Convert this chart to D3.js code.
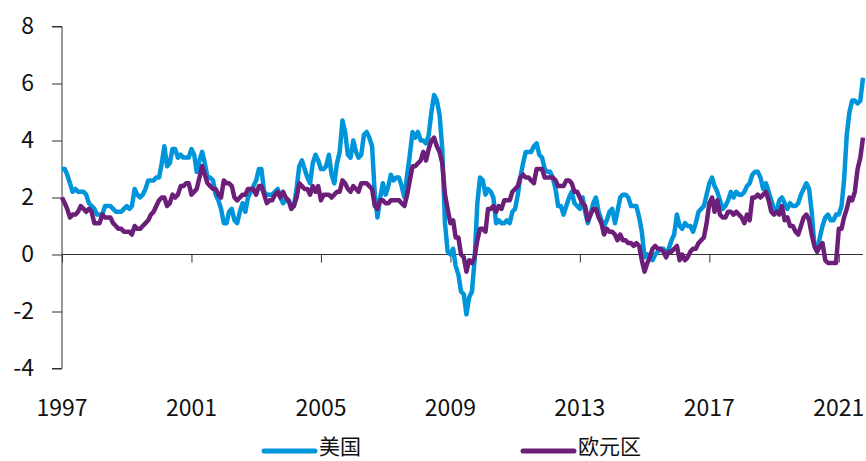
<!DOCTYPE html>
<html>
<head>
<meta charset="utf-8">
<script src="https://cdn.jsdelivr.net/npm/d3@7/dist/d3.min.js"></script>
<style>
  html, body { margin: 0; padding: 0; background: #ffffff; }
  svg { display: block; }
  text { font-family: "Noto Sans CJK SC", "Noto Sans", sans-serif; fill: #111; }
</style>
</head>
<body>
<svg id="chart" width="866" height="461"></svg>
<script>
// Monthly YoY inflation (%), Jan 1997 – Oct 2021
const startYear = 1997;
const seriesNames = ["美国", "欧元区"];
const seriesColors = ["#0095DA", "#6C1F78"];
const yTicks = [-4, -2, 0, 2, 4, 6, 8];
const xTickYears = [1997, 2001, 2005, 2009, 2013, 2017, 2021];

const usValues = [
  3.0, 3.0, 2.8, 2.5, 2.2, 2.3, 2.2, 2.2, 2.2, 2.1, 1.8, 1.7,
  1.6, 1.4, 1.4, 1.4, 1.7, 1.7, 1.7, 1.6, 1.5, 1.5, 1.5, 1.6,
  1.7, 1.6, 1.7, 2.3, 2.1, 2.0, 2.1, 2.3, 2.6, 2.6, 2.6, 2.7,
  2.7, 3.2, 3.8, 3.1, 3.2, 3.7, 3.7, 3.4, 3.5, 3.4, 3.4, 3.4,
  3.7, 3.5, 2.9, 3.3, 3.6, 3.2, 2.7, 2.7, 2.6, 2.1, 1.9, 1.6,
  1.1, 1.1, 1.5, 1.6, 1.2, 1.1, 1.5, 1.8, 1.5, 2.0, 2.2, 2.4,
  2.6, 3.0, 3.0, 2.2, 2.1, 2.1, 2.1, 2.2, 2.3, 2.0, 1.8, 1.9,
  1.9, 1.7, 1.7, 2.3, 3.1, 3.3, 3.0, 2.7, 2.5, 3.2, 3.5, 3.3,
  3.0, 3.0, 3.1, 3.5, 2.8, 2.5, 3.2, 3.6, 4.7, 4.3, 3.5, 3.4,
  4.0, 3.6, 3.4, 3.5, 4.2, 4.3, 4.1, 3.8, 2.1, 1.3, 2.0, 2.5,
  2.1, 2.4, 2.8, 2.6, 2.7, 2.7, 2.4, 2.0, 2.8, 3.5, 4.3, 4.1,
  4.3, 4.0, 4.0, 3.9, 4.2, 5.0, 5.6, 5.4, 4.9, 3.7, 1.1, 0.1,
  0.0, 0.2, -0.4, -0.7, -1.3, -1.4, -2.1, -1.5, -1.3, -0.2, 1.8, 2.7,
  2.6, 2.1, 2.3, 2.2, 2.0, 1.1, 1.2, 1.1, 1.1, 1.2, 1.1, 1.5,
  1.6, 2.1, 2.7, 3.2, 3.6, 3.6, 3.6, 3.8, 3.9, 3.5, 3.4, 3.0,
  2.9, 2.9, 2.7, 2.3, 1.7, 1.7, 1.4, 1.7, 2.0, 2.2, 1.8, 1.7,
  1.6, 2.0, 1.5, 1.1, 1.4, 1.8, 2.0, 1.5, 1.2, 1.0, 1.2, 1.5,
  1.6, 1.1, 1.5, 2.0, 2.1, 2.1, 2.0, 1.7, 1.7, 1.7, 1.3, 0.8,
  -0.1, 0.0, -0.1, -0.2, 0.0, 0.1, 0.2, 0.2, 0.0, 0.2, 0.5, 0.7,
  1.4, 1.0, 0.9, 1.1, 1.0, 1.0, 0.8, 1.1, 1.5, 1.6, 1.7, 2.1,
  2.5, 2.7, 2.4, 2.2, 1.9, 1.6, 1.7, 1.9, 2.2, 2.0, 2.2, 2.1,
  2.1, 2.2, 2.4, 2.5, 2.8, 2.9, 2.9, 2.7, 2.3, 2.5, 2.2, 1.9,
  1.6, 1.5, 1.9, 2.0, 1.8, 1.6, 1.8, 1.7, 1.7, 1.8, 2.1, 2.3,
  2.5, 2.3, 1.5, 0.3, 0.1, 0.6, 1.0, 1.3, 1.4, 1.2, 1.2, 1.4,
  1.4, 1.7, 2.6, 4.2, 5.0, 5.4, 5.4, 5.3, 5.4, 6.2
];

const euroValues = [
  2.0, 1.8, 1.6, 1.3, 1.4, 1.4, 1.5, 1.7, 1.6, 1.5, 1.6, 1.5,
  1.1, 1.1, 1.1, 1.4, 1.3, 1.3, 1.3, 1.1, 1.0, 0.9, 0.9, 0.8,
  0.8, 0.8, 0.7, 1.0, 0.9, 0.9, 1.0, 1.1, 1.2, 1.4, 1.5, 1.7,
  1.9, 2.0, 2.0, 1.7, 1.8, 2.1, 2.0, 2.1, 2.4, 2.4, 2.5, 2.5,
  2.1, 2.2, 2.3, 2.7, 3.1, 2.8, 2.5, 2.4, 2.3, 2.3, 2.1, 2.0,
  2.6, 2.5, 2.5, 2.4, 2.0, 1.9, 2.0, 2.1, 2.1, 2.3, 2.3, 2.3,
  2.1, 2.4, 2.4, 2.1, 1.8, 1.9, 1.9, 2.1, 2.2, 2.0, 2.2, 2.0,
  1.9, 1.6, 1.7, 2.0, 2.5, 2.4, 2.3, 2.3, 2.1, 2.4, 2.2, 2.4,
  1.9, 2.1, 2.1, 2.1, 2.0, 2.1, 2.2, 2.2, 2.6, 2.5, 2.3, 2.2,
  2.4, 2.3, 2.2, 2.5, 2.5, 2.5, 2.4, 2.3, 1.7, 1.6, 1.9, 1.9,
  1.8, 1.8, 1.9, 1.9, 1.9, 1.9, 1.8, 1.7, 2.1, 2.6, 3.1, 3.1,
  3.2, 3.3, 3.6, 3.3, 3.7, 4.0, 4.1, 3.8, 3.6, 3.2, 2.1, 1.6,
  1.1, 1.2, 0.6, 0.6, 0.0, -0.1, -0.6, -0.2, -0.3, -0.1, 0.5, 0.9,
  0.9, 0.8, 1.6, 1.6, 1.7, 1.5, 1.7, 1.6, 1.9, 1.9, 1.9, 2.2,
  2.3, 2.4, 2.7, 2.8, 2.7, 2.7, 2.6, 2.5, 3.0, 3.0, 3.0, 2.7,
  2.7, 2.7, 2.7, 2.6, 2.4, 2.4, 2.4, 2.6, 2.6, 2.5, 2.2, 2.2,
  2.0, 1.8, 1.7, 1.2, 1.4, 1.6, 1.6, 1.3, 1.1, 0.7, 0.9, 0.8,
  0.8, 0.7, 0.5, 0.7, 0.5, 0.5, 0.4, 0.4, 0.3, 0.4, 0.3, -0.2,
  -0.6, -0.3, -0.1, 0.2, 0.3, 0.2, 0.2, 0.1, -0.1, 0.1, 0.1, 0.2,
  0.3, -0.2, 0.0, -0.2, -0.1, 0.1, 0.2, 0.2, 0.4, 0.5, 0.6, 1.1,
  1.8, 2.0, 1.5, 1.9, 1.4, 1.3, 1.3, 1.5, 1.5, 1.4, 1.5, 1.4,
  1.3, 1.1, 1.4, 1.2, 2.0, 2.0, 2.1, 2.0, 2.1, 2.2, 1.9, 1.5,
  1.4, 1.5, 1.4, 1.7, 1.2, 1.3, 1.0, 1.0, 0.8, 0.7, 1.0, 1.3,
  1.4, 1.2, 0.7, 0.3, 0.1, 0.3, 0.4, -0.2, -0.3, -0.3, -0.3, -0.3,
  0.9, 0.9, 1.3, 1.6, 2.0, 1.9, 2.2, 3.0, 3.4, 4.1
];

const allSeries = [usValues, euroValues];

const svg = d3.select("#chart");
const axisColor = "#333";

const monthDate = i => new Date(startYear, i, 1);
const nMonths = usValues.length;

const x = d3.scaleTime()
  .domain([monthDate(0), monthDate(nMonths - 1)])
  .range([62, 863]);

const y = d3.scaleLinear()
  .domain([-4, 8])
  .range([368.5, 26.5]);

// Y axis
const yAxis = d3.axisLeft(y)
  .tickValues(yTicks)
  .tickSize(10)
  .tickPadding(18)
  .tickFormat(d => String(d));

const gy = svg.append("g")
  .attr("transform", `translate(${x.range()[0]},0)`)
  .call(yAxis);
gy.select(".domain").attr("stroke", axisColor).attr("d", `M-10,${y(8)}H0V${y(-4)}H-10`);
gy.selectAll(".tick line").attr("stroke", axisColor);
gy.selectAll(".tick text")
  .attr("font-size", 23)
  .attr("fill", "#111")
  .style("font-family", '"Noto Sans CJK SC", "Noto Sans", sans-serif');

// X axis along zero line
const xAxis = d3.axisBottom(x)
  .tickValues(xTickYears.map(yr => new Date(yr, 0, 1)))
  .tickSize(8)
  .tickFormat(d3.timeFormat("%Y"));

const gx = svg.append("g")
  .attr("transform", `translate(0,${y(0)})`)
  .call(xAxis);
gx.select(".domain").attr("stroke", axisColor).attr("d", `M${x.range()[0]},0H${x.range()[1]}`);
gx.selectAll(".tick line").attr("stroke", axisColor);
gx.selectAll(".tick text").remove();

// Year labels at the bottom
svg.append("g")
  .selectAll("text")
  .data(xTickYears)
  .join("text")
  .attr("x", d => x(new Date(d, 0, 1)))
  .attr("y", 416)
  .attr("text-anchor", "middle")
  .attr("font-size", 23)
  .text(d => d);

// Lines
const line = d3.line()
  .x((d, i) => x(monthDate(i)))
  .y(d => y(d));

svg.append("g")
  .selectAll("path")
  .data(allSeries)
  .join("path")
  .attr("fill", "none")
  .attr("stroke", (d, i) => seriesColors[i])
  .attr("stroke-width", 4.5)
  .attr("stroke-linejoin", "round")
  .attr("d", line);

// Legend
const legendX = [264, 523];
const legend = svg.append("g")
  .selectAll("g")
  .data(seriesNames)
  .join("g")
  .attr("transform", (d, i) => `translate(${legendX[i]},451)`);
legend.append("line")
  .attr("x1", 0).attr("x2", 51)
  .attr("y1", 0).attr("y2", 0)
  .attr("stroke", (d, i) => seriesColors[i])
  .attr("stroke-width", 5)
  .attr("stroke-linecap", "round");
legend.append("text")
  .attr("x", 55)
  .attr("y", 3)
  .attr("font-size", 21)
  .text(d => d);
</script>
</body>
</html>
